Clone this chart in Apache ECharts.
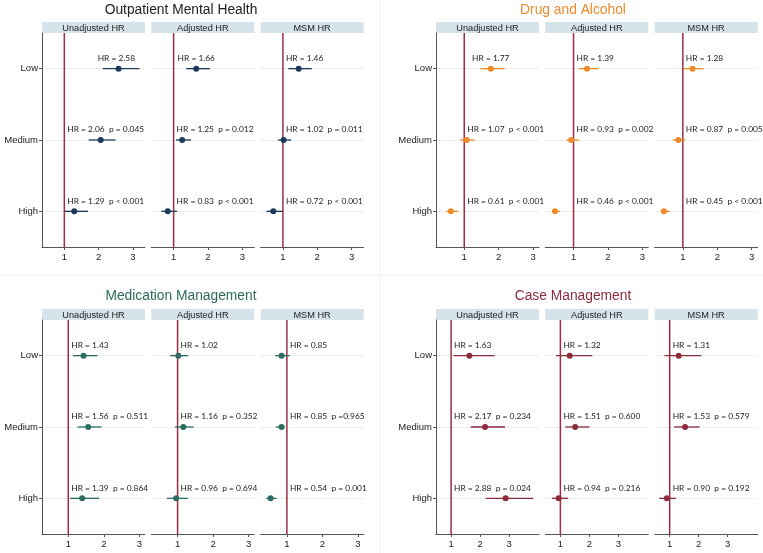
<!DOCTYPE html>
<html>
<head>
<meta charset="utf-8">
<title>Hazard ratios by engagement level</title>
<script src="https://cdn.jsdelivr.net/npm/echarts@6/dist/echarts.min.js"></script>
</head>
<body style="margin: 0; background: #fff">
<div id="main" style="width: 763px; height: 553px"></div>
<script>
const services = ['Outpatient Mental Health', 'Drug and Alcohol', 'Medication Management', 'Case Management'];
const models = ['Unadjusted HR', 'Adjusted HR', 'MSM HR'];
const levels = ['Low', 'Medium', 'High'];

// each array: [Unadjusted, Adjusted, MSM] x [Low, Medium, High]
const omhHR = [[2.58, 2.06, 1.29], [1.66, 1.25, 0.83], [1.46, 1.02, 0.72]];
const omhLo = [[2.12, 1.71, 1.01], [1.37, 1.07, 0.64], [1.16, 0.86, 0.52]];
const omhHi = [[3.19, 2.49, 1.69], [2.06, 1.51, 1.10], [1.84, 1.24, 1.00]];
const omhP = [[null, '= 0.045', '< 0.001'], [null, '= 0.012', '< 0.001'], [null, '= 0.011', '< 0.001']];

const drugHR = [[1.77, 1.07, 0.61], [1.39, 0.93, 0.46], [1.28, 0.87, 0.45]];
const drugLo = [[1.47, 0.88, 0.48], [1.15, 0.79, 0.39], [1.04, 0.71, 0.36]];
const drugHi = [[2.17, 1.30, 0.82], [1.72, 1.16, 0.61], [1.60, 1.07, 0.62]];
const drugP = [[null, '< 0.001', '< 0.001'], [null, '= 0.002', '< 0.001'], [null, '= 0.005', '< 0.001']];

const medHR = [[1.43, 1.56, 1.39], [1.02, 1.16, 0.96], [0.85, 0.85, 0.54]];
const medLo = [[1.13, 1.26, 1.05], [0.79, 0.93, 0.70], [0.67, 0.69, 0.42]];
const medHi = [[1.82, 1.94, 1.87], [1.30, 1.45, 1.29], [1.08, 0.94, 0.71]];
const medP = [[null, '= 0.511', '= 0.864'], [null, '= 0.352', '= 0.694'], [null, '=0.965', '= 0.001']];

const caseHR = [[1.63, 2.17, 2.88], [1.32, 1.51, 0.94], [1.31, 1.53, 0.90]];
const caseLo = [[1.08, 1.68, 2.19], [0.85, 1.17, 0.71], [0.82, 1.15, 0.64]];
const caseHi = [[2.50, 2.86, 3.83], [2.10, 2.00, 1.27], [2.09, 2.03, 1.22]];
const caseP = [[null, '= 0.234', '= 0.024'], [null, '= 0.600', '= 0.216'], [null, '= 0.579', '= 0.192']];

const xMin = [0.35, 0.18, 0.26, 0.48];
const xMax = [3.35, 3.17, 3.16, 4.03];
const xTicks = [1, 2, 3];
const refHR = 1;

const allHR = [omhHR, drugHR, medHR, caseHR];
const allLo = [omhLo, drugLo, medLo, caseLo];
const allHi = [omhHi, drugHi, medHi, caseHi];
const allP = [omhP, drugP, medP, caseP];

const pointColors = ['#1c3a5e', '#ee8a2a', '#2c6b5f', '#8c2b3b'];
const titleColors = ['#222222', '#ee8a2a', '#2c6b5f', '#8c2b3b'];
const refColor = '#a02c40';

// layout
const colLeft = [42, 436];
const colCenter = [181, 573];
const rowTop = [33, 320];
const titleTop = [3, 289];
const subStep = 109.3;
const subW = 103;
const subH = 214;
const headH = 11;

const labelFont = '8.4px Lato';
const measure = document.createElement('canvas').getContext('2d');
measure.font = labelFont;

const chart = echarts.init(document.getElementById('main'));

const grids = [], xAxes = [], yAxes = [], series = [], titles = [], graphics = [];

services.forEach((name, s) => {
  const col = s % 2, row = Math.floor(s / 2);
  titles.push({
    text: name,
    left: colCenter[col],
    top: titleTop[row],
    padding: 0,
    textAlign: 'center',
    textStyle: { fontFamily: 'Liberation Sans', fontSize: 13.8, fontWeight: 'normal', color: titleColors[s] }
  });

  models.forEach((m, k) => {
    const gi = grids.length;
    const left = colLeft[col] + k * subStep;
    grids.push({ left: left, top: rowTop[row], width: subW, height: subH, containLabel: false });

    graphics.push({
      type: 'rect', silent: true,
      shape: { x: left, y: rowTop[row] - headH, width: subW, height: headH },
      style: { fill: '#d6e3ea' }
    });
    graphics.push({
      type: 'text', silent: true,
      x: left + subW / 2, y: rowTop[row] - headH / 2 + 0.5,
      style: { text: m, fill: '#222', font: '9.2px Liberation Sans', align: 'center', verticalAlign: 'middle' }
    });

    xAxes.push({
      type: 'value', gridIndex: gi, min: xMin[s], max: xMax[s],
      axisLine: { show: true, onZero: false, lineStyle: { color: '#555', width: 1 } },
      axisTick: { show: true, length: 3, customValues: xTicks, lineStyle: { color: '#555' } },
      axisLabel: { customValues: xTicks, color: '#222', fontSize: 9.5, fontFamily: 'Liberation Sans', margin: 5 },
      splitLine: { show: false }
    });
    yAxes.push({
      type: 'value', gridIndex: gi, min: -0.5, max: 2.5, inverse: true,
      axisLine: { show: k === 0, onZero: false, lineStyle: { color: '#555', width: 1 } },
      axisTick: { show: k === 0, length: 3, customValues: [0, 1, 2], lineStyle: { color: '#555' } },
      axisLabel: {
        show: k === 0, customValues: [0, 1, 2], formatter: v => levels[Math.round(v)],
        color: '#222', fontSize: 9.5, fontFamily: 'Liberation Sans', margin: 4
      },
      splitLine: { show: true, customValues: [0.5, 1.5], lineStyle: { color: '#eeeeee', width: 1 } }
    });

    const hr = allHR[s][k], lo = allLo[s][k], hi = allHi[s][k], p = allP[s][k];
    const labels = hr.map((v, i) => 'HR = ' + v.toFixed(2) + (p[i] ? '  p ' + p[i] : ''));
    const color = pointColors[s];

    // reference line at HR = 1, full height of the sub-panel
    series.push({
      type: 'custom',
      xAxisIndex: gi, yAxisIndex: gi,
      clip: false, silent: true, z: 2,
      data: [[refHR, 0]],
      renderItem: function (params, api) {
        const cs = params.coordSys;
        const x = api.coord([api.value(0), 0])[0];
        return { type: 'line', shape: { x1: x, y1: cs.y, x2: x, y2: cs.y + cs.height }, style: { stroke: refColor, lineWidth: 1.5 } };
      }
    });

    series.push({
      type: 'custom',
      xAxisIndex: gi, yAxisIndex: gi,
      clip: false, silent: true, z: 3,
      data: hr.map((v, i) => [v, lo[i], hi[i], i]),
      encode: { x: 0, y: 3 },
      renderItem: function (params, api) {
        const r = api.value(3);
        const c = api.coord([api.value(0), r]);
        const a = api.coord([api.value(1), r]);
        const b = api.coord([api.value(2), r]);
        const one = api.coord([refHR, r]);
        const cs = params.coordSys;
        const txt = labels[params.dataIndex];
        const w = measure.measureText(txt).width;
        let tx = c[0] - w / 2;
        if (tx + w > cs.x + cs.width - 10) tx = cs.x + cs.width - 10 - w;
        if (tx < one[0] + 3) tx = one[0] + 3;
        return {
          type: 'group',
          children: [
            { type: 'line', shape: { x1: a[0], y1: a[1], x2: b[0], y2: b[1] }, style: { stroke: color, lineWidth: 1.3 } },
            { type: 'circle', shape: { cx: c[0], cy: c[1], r: 3 }, style: { fill: color } },
            { type: 'text', x: tx, y: c[1] - 6.5, style: { text: txt, fill: '#222', font: labelFont, align: 'left', verticalAlign: 'bottom' } }
          ]
        };
      }
    });
  });
});

// faint separators between the four blocks
graphics.push({ type: 'line', silent: true, shape: { x1: 380, y1: 0, x2: 380, y2: 553 }, style: { stroke: '#f0f0f0', lineWidth: 1 } });
graphics.push({ type: 'line', silent: true, shape: { x1: 0, y1: 275, x2: 763, y2: 275 }, style: { stroke: '#f0f0f0', lineWidth: 1 } });

chart.setOption({
  animation: false,
  backgroundColor: '#ffffff',
  title: titles,
  grid: grids,
  xAxis: xAxes,
  yAxis: yAxes,
  series: series,
  graphic: graphics
});
</script>
</body>
</html>
